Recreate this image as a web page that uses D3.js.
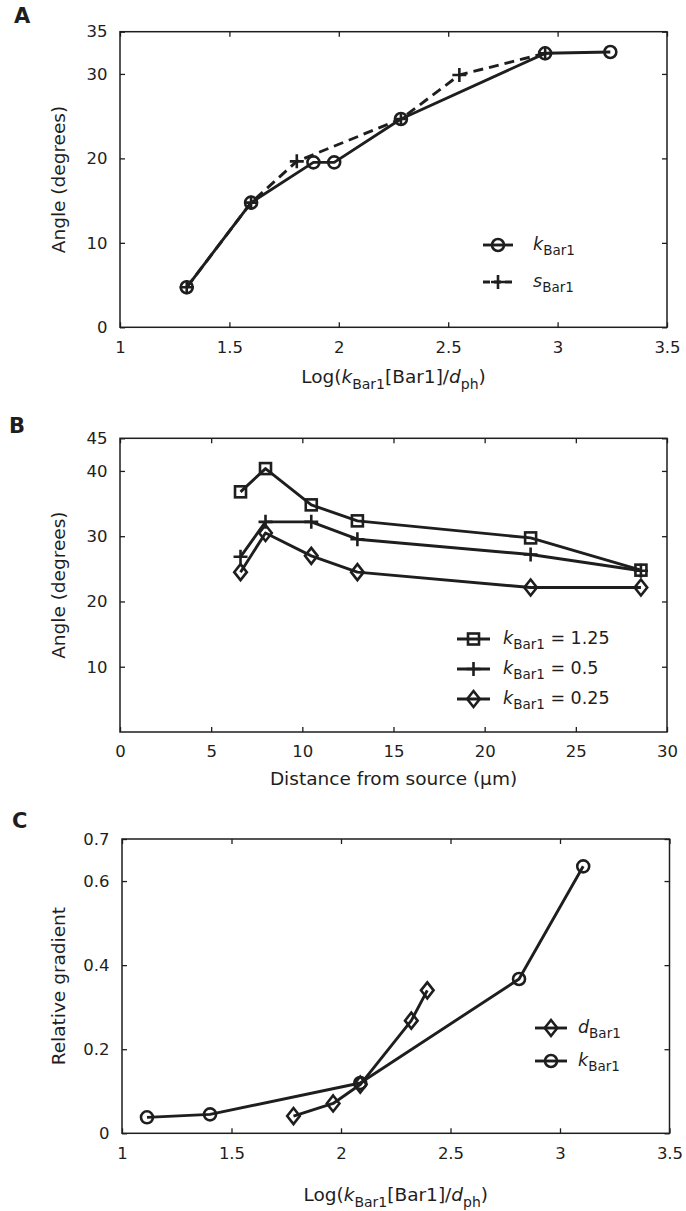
<!DOCTYPE html>
<html><head><meta charset="utf-8">
<script src="https://cdn.jsdelivr.net/npm/d3@7"></script>
<style>body{margin:0;background:#fff}svg{display:block}</style>
</head><body>
<script>
// ---- Panel A data ----
const aKX = [1.305, 1.599, 1.884, 1.979, 2.284, 2.943, 3.241];
const aKY = [4.74, 14.76, 19.53, 19.53, 24.66, 32.44, 32.6];
const aSX = [1.305, 1.599, 1.808, 2.284, 2.551, 2.943];
const aSY = [4.74, 14.76, 19.65, 24.66, 29.87, 32.44];
const aXTicks = [1, 1.5, 2, 2.5, 3, 3.5];
const aYTicks = [0, 10, 20, 30, 35];
// ---- Panel B data ----
const bX = [6.61, 7.98, 10.49, 13.02, 22.52, 28.57];
const bY125 = [36.8, 40.36, 34.8, 32.35, 29.74, 24.8];
const bY05 = [26.84, 32.2, 32.2, 29.54, 27.19, 24.7];
const bY025 = [24.49, 30.5, 26.99, 24.49, 22.14, 22.14];
const bXTicks = [0, 5, 10, 15, 20, 25, 30];
const bYTicks = [10, 20, 30, 40, 45];
// ---- Panel C data ----
const cKX = [1.114, 1.402, 2.088, 2.813, 3.106];
const cKY = [0.038, 0.045, 0.1196, 0.367, 0.635];
const cDX = [1.783, 1.964, 2.088, 2.321, 2.394];
const cDY = [0.041, 0.071, 0.116, 0.268, 0.340];
const cXTicks = [1, 1.5, 2, 2.5, 3, 3.5];
const cYTicks = [0, 0.2, 0.4, 0.6, 0.7];

const W = 686, H = 1211;
const FONT = "'DejaVu Sans', 'Liberation Sans', Arial, sans-serif";
const INK = "#1e1e1e";

const svg = d3.select("body").append("svg")
  .attr("width", W).attr("height", H)
  .style("font-family", FONT);

function marker(g, type, x, y) {
  const s = g.append("g").attr("transform", `translate(${x},${y})`)
    .attr("fill", "none").attr("stroke", INK).attr("stroke-width", 2.6);
  if (type === "circle") s.append("circle").attr("r", 6);
  else if (type === "plus") s.append("path").attr("d", "M-7,0H7M0,-7V7");
  else if (type === "square") s.append("rect").attr("x", -5.5).attr("y", -5.5).attr("width", 11).attr("height", 11);
  else if (type === "diamond") s.append("path").attr("d", "M0,-8L6.3,0L0,8L-6.3,0Z");
}

function richText(sel, parts, size, subSize) {
  let shifted = false;
  parts.forEach(p => {
    const t = sel.append("tspan").text(p[0]);
    if (p[1]) t.style("font-style", "italic");
    if (p[2]) { t.attr("font-size", subSize); if (!shifted) { t.attr("dy", size * 0.3); shifted = true; } }
    else { t.attr("font-size", size); if (shifted) { t.attr("dy", -size * 0.3); shifted = false; } }
  });
}

function panel(cfg) {
  const x = d3.scaleLinear().domain(cfg.xDomain).range([cfg.left, cfg.right]);
  const y = d3.scaleLinear().domain(cfg.yDomain).range([cfg.bottom, cfg.top]);
  const g = svg.append("g");

  const fmt = d => String(d);
  const bx = g.append("g").attr("transform", `translate(0,${cfg.bottom})`)
    .call(d3.axisBottom(x).tickValues(cfg.xTicks).tickFormat(fmt).tickSize(-5).tickSizeOuter(0).tickPadding(13.5));
  const tx = g.append("g").attr("transform", `translate(0,${cfg.top})`)
    .call(d3.axisTop(x).tickValues(cfg.xTicks).tickFormat("").tickSize(-5).tickSizeOuter(0));
  const ly = g.append("g").attr("transform", `translate(${cfg.left},0)`)
    .call(d3.axisLeft(y).tickValues(cfg.yTicks).tickFormat(fmt).tickSize(-5).tickSizeOuter(0).tickPadding(12.5));
  const ry = g.append("g").attr("transform", `translate(${cfg.right},0)`)
    .call(d3.axisRight(y).tickValues(cfg.yTicks).tickFormat("").tickSize(-5).tickSizeOuter(0));
  [bx, tx, ly, ry].forEach(a => {
    a.select(".domain").remove();
    a.selectAll("line").attr("stroke", INK).attr("stroke-width", 1.3);
    a.selectAll("text").attr("fill", INK).style("font-family", FONT).style("font-size", "16.5px");
  });
  g.append("rect").attr("x", cfg.left).attr("y", cfg.top)
    .attr("width", cfg.right - cfg.left).attr("height", cfg.bottom - cfg.top)
    .attr("fill", "none").attr("stroke", INK).attr("stroke-width", 1.5);

  g.append("text").attr("x", cfg.letterX).attr("y", cfg.letterY).text(cfg.letter)
    .attr("font-weight", "bold").attr("font-size", 21).attr("fill", INK);

  g.append("text").attr("transform", `translate(65,${(cfg.top + cfg.bottom) / 2}) rotate(-90)`)
    .attr("text-anchor", "middle").attr("font-size", 18.5).attr("fill", INK).text(cfg.yTitle);

  const xt = g.append("text").attr("x", (cfg.left + cfg.right) / 2).attr("y", cfg.xTitleY)
    .attr("text-anchor", "middle").attr("font-size", 18.5).attr("fill", INK);
  richText(xt, cfg.xTitle, 18.5, 14);

  const line = d3.line().x(d => x(d[0])).y(d => y(d[1]));
  cfg.series.forEach(s => {
    const pts = s.xs.map((v, i) => [v, s.ys[i]]);
    g.append("path").datum(pts).attr("d", line).attr("fill", "none")
      .attr("stroke", INK).attr("stroke-width", 2.9).attr("stroke-linejoin", "round")
      .attr("stroke-dasharray", s.dash || null);
    pts.forEach(p => marker(g, s.marker, x(p[0]), y(p[1])));
  });

  cfg.legend.forEach((L, i) => {
    const ly0 = cfg.legY + i * cfg.legStep;
    g.append("line").attr("x1", cfg.legX1).attr("x2", cfg.legX2).attr("y1", ly0).attr("y2", ly0)
      .attr("stroke", INK).attr("stroke-width", 2.9).attr("stroke-dasharray", L.dash || null);
    marker(g, L.marker, (cfg.legX1 + cfg.legX2) / 2, ly0);
    const t = g.append("text").attr("x", cfg.legTextX).attr("y", ly0 + 5).attr("fill", INK);
    richText(t, L.parts, 17.5, 13.5);
  });
}

const logTitle = [["Log("], ["k", true], ["Bar1", false, true], ["[Bar1]/"], ["d", true], ["ph", false, true], [")"]];

panel({
  letter: "A", letterX: 14, letterY: 23,
  left: 120, right: 667, top: 31.7, bottom: 327.3,
  xDomain: [1, 3.5], yDomain: [0, 35], xTicks: aXTicks, yTicks: aYTicks,
  yTitle: "Angle (degrees)", xTitle: logTitle, xTitleY: 383,
  series: [
    { xs: aSX, ys: aSY, marker: "plus", dash: "10,6" },
    { xs: aKX, ys: aKY, marker: "circle" }
  ],
  legY: 245, legStep: 37, legX1: 483, legX2: 513, legTextX: 533,
  legend: [
    { marker: "circle", parts: [["k", true], ["Bar1", false, true]] },
    { marker: "plus", dash: "7,4", parts: [["s", true], ["Bar1", false, true]] }
  ]
});

panel({
  letter: "B", letterX: 9, letterY: 433,
  left: 120, right: 667, top: 438.3, bottom: 732,
  xDomain: [0, 30], yDomain: [0, 45], xTicks: bXTicks, yTicks: bYTicks,
  yTitle: "Angle (degrees)", xTitle: [["Distance from source (μm)"]], xTitleY: 785,
  series: [
    { xs: bX, ys: bY125, marker: "square" },
    { xs: bX, ys: bY05, marker: "plus" },
    { xs: bX, ys: bY025, marker: "diamond" }
  ],
  legY: 639, legStep: 30, legX1: 457, legX2: 490, legTextX: 503,
  legend: [
    { marker: "square", parts: [["k", true], ["Bar1", false, true], [" = 1.25"]] },
    { marker: "plus", parts: [["k", true], ["Bar1", false, true], [" = 0.5"]] },
    { marker: "diamond", parts: [["k", true], ["Bar1", false, true], [" = 0.25"]] }
  ]
});

panel({
  letter: "C", letterX: 12, letterY: 828,
  left: 122, right: 669.5, top: 839, bottom: 1133.3,
  xDomain: [1, 3.5], yDomain: [0, 0.7], xTicks: cXTicks, yTicks: cYTicks,
  yTitle: "Relative gradient", xTitle: logTitle, xTitleY: 1201,
  series: [
    { xs: cKX, ys: cKY, marker: "circle" },
    { xs: cDX, ys: cDY, marker: "diamond" }
  ],
  legY: 1028, legStep: 33, legX1: 535, legX2: 567, legTextX: 578,
  legend: [
    { marker: "diamond", parts: [["d", true], ["Bar1", false, true]] },
    { marker: "circle", parts: [["k", true], ["Bar1", false, true]] }
  ]
});
</script>
</body></html>
